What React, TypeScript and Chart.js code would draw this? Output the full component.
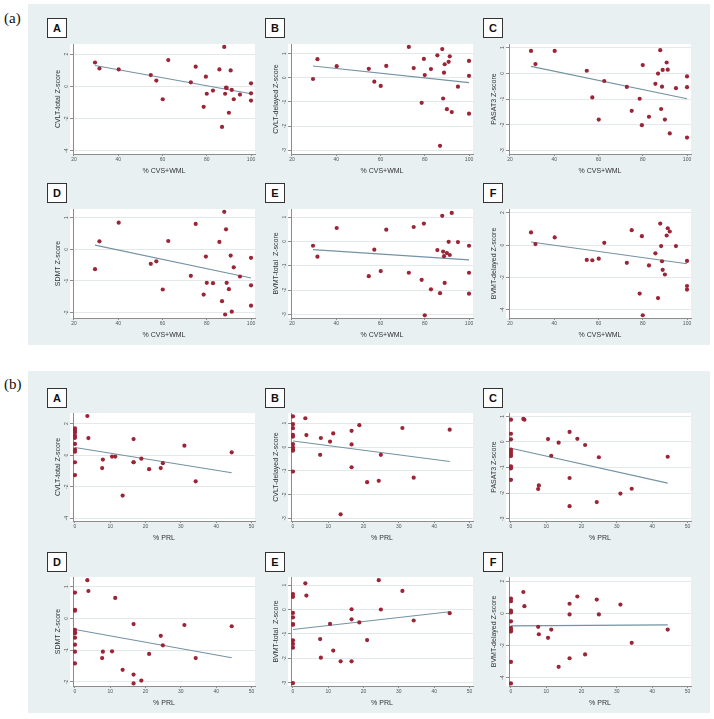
import React, { useEffect, useRef } from "react";
import { Chart, registerables } from "chart.js";

Chart.register(...registerables);

// ---------- data: panel (a), x = % CVS+WML ----------
const cvsWml = [29.5, 31.5, 40.2, 54.7, 57.2, 60.1, 62.6, 72.8, 75.0, 78.6, 79.6, 80.0, 82.8, 85.7, 86.9, 87.9, 88.3, 88.7, 89.0, 90.0, 90.8, 91.3, 92.2, 95.0, 100, 100, 100];
const aCvltTotal = [1.48, 1.11, 1.05, 0.70, 0.36, -0.80, 1.63, 0.25, 1.22, -1.27, 0.60, -0.46, -0.26, 1.05, -2.52, 2.45, -0.46, -0.08, -0.10, -1.64, 0.99, -0.22, -0.80, -0.51, 0.19, -0.43, -0.88];
const aCvltDelayed = [-0.05, 0.77, 0.48, 0.37, -0.16, -0.34, 0.49, 1.28, 0.40, -1.04, 0.78, 0.11, 0.36, 0.93, -2.82, 1.19, -0.86, 0.21, 0.56, -1.30, 0.66, 0.89, -1.42, -0.37, 0.70, 0.08, -1.49];
const aPasat = [0.87, 0.36, 0.87, 0.10, -0.94, -1.80, -0.30, -0.53, -1.46, -0.99, -2.02, 0.32, -1.69, -0.41, -0.01, 0.90, -1.39, -0.52, 0.13, -1.80, 0.42, 0.14, -2.34, -0.58, -0.12, -0.54, -2.50];
const aSdmt = [-0.63, 0.25, 0.84, -0.46, -0.38, -1.27, 0.26, -0.84, 0.80, -1.43, -0.23, -1.06, -1.07, 0.23, -1.64, 1.18, -2.06, 0.63, -1.06, -1.26, -0.20, -1.97, -0.57, -0.86, -0.27, -1.14, -1.78];
const aBvmtTotal = [-0.18, -0.63, 0.55, -1.43, -0.34, -1.22, 0.48, -1.29, 0.59, -1.58, 0.73, -3.04, -1.97, -0.36, -2.13, 1.05, -0.42, -0.61, -1.71, -0.48, -0.02, -0.56, 1.17, -0.03, -0.18, -1.29, -2.15];
const aBvmtDelayed = [0.78, 0.06, 0.47, -0.92, -0.94, -0.84, 0.14, -1.10, 0.92, -3.0, 0.55, -4.34, -1.26, -0.51, -3.28, 1.33, -0.06, -1.0, -1.53, -1.82, 0.59, 1.04, 0.84, -0.06, -0.98, -2.53, -2.75];

// fitted lines (end points)
const aFitX = [29.5, 100];
const aFitCvltTotal = [1.29, -0.46];
const aFitCvltDelayed = [0.49, -0.2];
const aFitPasat = [0.27, -0.99];
const aFitSdmt = [0.13, -0.91];
const aFitBvmtTotal = [-0.34, -0.76];
const aFitBvmtDelayed = [0.19, -1.16];

// ---------- data: panel (b), x = % PRL ----------
const prl = [0, 0, 0, 0, 0, 0, 0, 0, 0, 0, 3.5, 3.8, 7.7, 7.9, 10.5, 11.4, 13.5, 16.6, 16.6, 16.6, 18.8, 21.0, 24.3, 24.9, 31.0, 34.2, 44.4];
const bCvltTotal = [1.69, 1.54, 1.44, 1.23, 1.10, 0.71, 0.35, 0.22, -0.45, -1.26, 2.48, 1.08, -0.82, -0.28, -0.09, -0.09, -2.56, 1.02, -0.45, -0.45, -0.22, -0.89, -0.82, -0.51, 0.60, -1.66, 0.18];
const bCvltDelayed = [1.29, 0.96, 0.79, 0.51, 0.44, 0.12, -0.02, -0.11, -0.15, -1.03, 1.21, 0.50, -0.33, 0.38, 0.23, 0.57, -2.83, 0.68, 0.11, -0.85, 0.92, -1.48, -1.42, -0.33, 0.80, -1.29, 0.73];
const bPasat = [0.87, 0.32, 0.10, -0.30, -0.38, -0.47, -0.55, -0.95, -1.03, -1.48, 0.90, 0.87, -1.84, -1.70, 0.11, -0.54, -0.03, 0.39, -1.41, -2.51, 0.12, -0.12, -2.35, -0.60, -2.02, -1.83, -0.58];
const bSdmt = [0.81, 0.27, 0.24, -0.36, -0.44, -0.47, -0.61, -0.83, -1.05, -1.42, 1.20, 0.86, -1.25, -1.05, -1.04, 0.64, -1.62, -0.18, -1.77, -2.05, -1.96, -1.12, -0.55, -0.85, -0.21, -1.25, -0.25];
const bBvmtTotal = [0.63, 0.52, -0.14, -0.32, -0.60, -0.62, -1.26, -1.41, -1.56, -3.01, 1.07, 0.57, -1.21, -1.97, -0.59, -1.68, -2.12, 0.01, -0.40, -2.12, -0.53, -1.25, 1.20, 0.0, 0.76, -0.45, -0.15];
const bBvmtDelayed = [0.91, 0.75, 0.16, 0.05, -0.50, -0.91, -1.03, -1.13, -3.02, -4.35, 1.32, 0.44, -0.84, -1.30, -1.52, -1.01, -3.32, 0.59, -0.07, -2.79, 1.04, -2.55, 0.85, -0.07, 0.54, -1.83, -1.01];

const bFitX = [0, 44.4];
const bFitCvltTotal = [0.49, -1.11];
const bFitCvltDelayed = [0.25, -0.61];
const bFitPasat = [-0.25, -1.61];
const bFitSdmt = [-0.35, -1.24];
const bFitBvmtTotal = [-0.82, -0.09];
const bFitBvmtDelayed = [-0.78, -0.72];

// ---------- tick labels ----------
const aXTicks = [20, 40, 60, 80, 100];
const bXTicks = [0, 10, 20, 30, 40, 50];
const ticksStep2 = [-4, -2, 0, 2];
const ticks3to1 = [-3, -2, -1, 0, 1];
const ticks2to1 = [-2, -1, 0, 1];

const yTitles = ["CVLT-total Z-score", "CVLT-delayed Z-score", "PASAT3 Z-score", "SDMT Z-score", "BVMT-total  Z-score", "BVMT-delayed Z-score"];
const letters = ["A", "B", "C", "D", "E", "F"];

// ---------- layout ----------
const COL_OFF = [0, 218, 436];
const ROW_TOP = [43, 208, 412, 576];
const ROW_BOT = [154, 318, 521, 686];
const LETTER_TOP = [18, 183, 388, 552];
const FONT = "'Liberation Sans', Arial, sans-serif";

type Spec = {
  key: string;
  row: number;
  col: number;
  letter: string;
  yTitle: string;
  xTitle: string;
  xs: number[];
  ys: number[];
  fitX: number[];
  fitY: number[];
  yMin: number;
  yMax: number;
  yTicks: number[];
  xMin: number;
  xMax: number;
  xTicks: number[];
};

const aRanges: [number, number, number[]][] = [
  [-4.2, 2.63, ticksStep2],
  [-3.16, 1.4, ticks3to1],
  [-3.14, 1.14, ticks3to1],
  [-2.17, 1.27, ticks2to1],
  [-3.15, 1.33, ticks3to1],
  [-4.51, 2.23, ticksStep2],
];
const bRanges: [number, number, number[]][] = [
  [-4.17, 2.67, ticksStep2],
  [-3.11, 1.43, ticks3to1],
  [-3.09, 1.13, ticks3to1],
  [-2.13, 1.3, ticks2to1],
  [-3.13, 1.33, ticks3to1],
  [-4.51, 2.25, ticksStep2],
];
const aYs = [aCvltTotal, aCvltDelayed, aPasat, aSdmt, aBvmtTotal, aBvmtDelayed];
const aFits = [aFitCvltTotal, aFitCvltDelayed, aFitPasat, aFitSdmt, aFitBvmtTotal, aFitBvmtDelayed];
const bYs = [bCvltTotal, bCvltDelayed, bPasat, bSdmt, bBvmtTotal, bBvmtDelayed];
const bFits = [bFitCvltTotal, bFitCvltDelayed, bFitPasat, bFitSdmt, bFitBvmtTotal, bFitBvmtDelayed];

const specs: Spec[] = [];
for (let i = 0; i < 6; i++) {
  specs.push({
    key: "a" + i,
    row: Math.floor(i / 3),
    col: i % 3,
    letter: letters[i],
    yTitle: yTitles[i],
    xTitle: "% CVS+WML",
    xs: cvsWml,
    ys: aYs[i],
    fitX: aFitX,
    fitY: aFits[i],
    yMin: aRanges[i][0],
    yMax: aRanges[i][1],
    yTicks: aRanges[i][2],
    xMin: 19.55,
    xMax: 101.8,
    xTicks: aXTicks,
  });
}
for (let i = 0; i < 6; i++) {
  specs.push({
    key: "b" + i,
    row: 2 + Math.floor(i / 3),
    col: i % 3,
    letter: letters[i],
    yTitle: yTitles[i],
    xTitle: "% PRL",
    xs: prl,
    ys: bYs[i],
    fitX: bFitX,
    fitY: bFits[i],
    yMin: bRanges[i][0],
    yMax: bRanges[i][1],
    yTicks: bRanges[i][2],
    xMin: -0.56,
    xMax: 51,
    xTicks: bXTicks,
  });
}

const plotBg = {
  id: "plotBg",
  beforeDraw(chart: any) {
    const { ctx, chartArea: a } = chart;
    ctx.save();
    ctx.fillStyle = "#ffffff";
    ctx.fillRect(a.left - 3, a.top, a.right - a.left + 3, a.bottom - a.top);
    ctx.restore();
  },
};

const Y_AXIS_W = 27;
const X_AXIS_H = 22;

function Plot({ spec }: { spec: Spec }) {
  const ref = useRef<HTMLCanvasElement>(null);
  const off = COL_OFF[spec.col];
  const left = 46 + off;
  const width = 257 + 2 + off - left;
  const top = ROW_TOP[spec.row] - 3;
  const height = ROW_BOT[spec.row] + X_AXIS_H - top;

  useEffect(() => {
    if (!ref.current) return;
    const points = spec.xs.map((x, i) => ({ x, y: spec.ys[i] }));
    const fit = spec.fitX.map((x, i) => ({ x, y: spec.fitY[i] }));
    const chart = new Chart(ref.current, {
      type: "scatter",
      data: {
        datasets: [
          {
            data: fit,
            showLine: true,
            borderColor: "#7393a3",
            borderWidth: 1.1,
            pointRadius: 0,
            fill: false,
            order: 1,
          } as any,
          {
            data: points,
            backgroundColor: "#9b2436",
            borderColor: "#9b2436",
            borderWidth: 0,
            pointRadius: 2.1,
            order: 0,
          },
        ],
      },
      options: {
        animation: false,
        responsive: false,
        maintainAspectRatio: false,
        events: [],
        layout: { padding: { top: 3, right: 2, left: 0, bottom: 0 } },
        plugins: { legend: { display: false }, tooltip: { enabled: false } },
        scales: {
          x: {
            type: "linear",
            min: spec.xMin,
            max: spec.xMax,
            afterBuildTicks: (s: any) => {
              s.ticks = spec.xTicks.map((v) => ({ value: v }));
            },
            afterFit: (s: any) => {
              s.height = X_AXIS_H;
            },
            border: { display: true, color: "#8c8c8c", width: 1 },
            grid: { drawOnChartArea: false, drawTicks: true, tickLength: 2, tickColor: "#8c8c8c" },
            ticks: {
              autoSkip: false,
              maxRotation: 0,
              minRotation: 0,
              padding: 1,
              color: "#555",
              font: { size: 5, family: FONT },
            },
            title: {
              display: true,
              text: spec.xTitle,
              color: "#333",
              font: { size: 7, family: FONT },
              padding: { top: 0, bottom: 1 },
            },
          },
          y: {
            type: "linear",
            min: spec.yMin,
            max: spec.yMax,
            afterBuildTicks: (s: any) => {
              s.ticks = spec.yTicks.map((v) => ({ value: v }));
            },
            afterFit: (s: any) => {
              s.width = Y_AXIS_W;
            },
            border: { display: true, color: "#8c8c8c", width: 1 },
            grid: {
              color: "#e3e9eb",
              lineWidth: 1,
              drawTicks: true,
              tickLength: 3,
              tickColor: "#8c8c8c",
            },
            ticks: {
              autoSkip: false,
              minRotation: 90,
              maxRotation: 90,
              crossAlign: "center",
              padding: 1,
              color: "#555",
              font: { size: 5, family: FONT },
            },
            title: {
              display: true,
              text: spec.yTitle,
              color: "#333",
              font: { size: 7, family: FONT },
              padding: { top: 7.8, bottom: 0 },
            },
          },
        },
      } as any,
      plugins: [plotBg],
    });
    return () => chart.destroy();
  }, []);

  return (
    <>
      <canvas
        ref={ref}
        width={width}
        height={height}
        style={{ position: "absolute", left, top, width, height }}
      />
      <div
        style={{
          position: "absolute",
          left: 47 + off,
          top: LETTER_TOP[spec.row],
          width: 18,
          height: 18,
          border: "1px solid #333",
          background: "#fff",
          font: `bold 11px ${FONT}`,
          color: "#111",
          display: "flex",
          alignItems: "center",
          justifyContent: "center",
          boxSizing: "content-box",
        }}
      >
        {spec.letter}
      </div>
    </>
  );
}

export default function App() {
  return (
    <div
      style={{
        position: "fixed",
        left: 0,
        top: 0,
        width: 714,
        height: 719,
        background: "#ffffff",
        overflow: "hidden",
      }}
    >
      <div style={{ position: "absolute", left: 28, top: 4, width: 682, height: 341, background: "#e8f0f2" }} />
      <div style={{ position: "absolute", left: 28, top: 371, width: 682, height: 342, background: "#e8f0f2" }} />
      <div style={{ position: "absolute", left: 4, top: 10, font: "15px 'Liberation Serif', 'Times New Roman', serif", color: "#111" }}>(a)</div>
      <div style={{ position: "absolute", left: 4, top: 376, font: "15px 'Liberation Serif', 'Times New Roman', serif", color: "#111" }}>(b)</div>
      {specs.map((s) => (
        <Plot key={s.key} spec={s} />
      ))}
    </div>
  );
}
